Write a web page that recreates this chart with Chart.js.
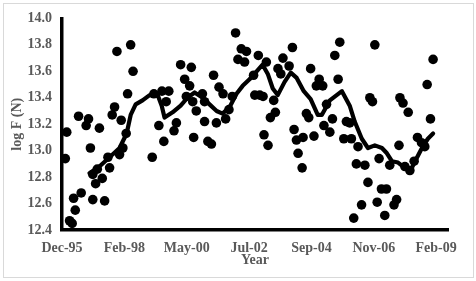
<!DOCTYPE html>
<html>
<head>
<meta charset="utf-8">
<script src="https://cdn.jsdelivr.net/npm/chart.js@4.4.1/dist/chart.umd.min.js"></script>
<style>
  body { margin: 0; background: #fff; }
  #frame { position: absolute; left: 3px; top: 3px; width: 469px; height: 273px; border: 1px solid #d9d9d9; }
  #myChart { position: absolute; left: 0; top: 0; }
</style>
</head>
<body>
<div id="frame"></div>
<canvas id="myChart" width="476" height="281"></canvas>
<script>
// months counted from Dec-95
var obsMonths = [1.4, 2.0, 3.2, 4.3, 4.9, 5.6, 7.0, 8.1, 10.2, 11.2, 12.0, 13.0, 13.0, 14.2, 14.9, 15.8, 17.0, 18.0, 19.4, 20.1,
  21.2, 22.2, 23.2, 24.3, 25.0, 25.7, 27.1, 27.7, 29.0, 30.0, 38.1, 38.8, 40.9, 42.2, 43.0, 44.0, 45.1, 47.3, 48.3, 50.1,
  51.8, 52.5, 53.9, 54.6, 55.2, 55.6, 56.7, 59.3, 60.2, 60.2, 61.6, 63.1, 64.0, 65.2, 66.3, 68.0, 69.1, 70.5, 71.9, 73.3,
  74.3, 75.7, 77.1, 77.9, 80.9, 81.4, 82.9, 83.5, 84.9, 85.3, 86.3, 87.0, 88.0, 89.4, 90.1, 91.2, 92.4, 93.3, 95.9, 97.3,
  98.0, 99.0, 99.7, 101.4, 101.8, 103.2, 104.2, 105.0, 106.4, 107.4, 108.6, 110.1, 110.6, 111.7, 113.1, 114.2, 115.2, 116.6, 117.3, 119.0,
  120.1, 121.5, 122.2, 123.2, 124.3, 125.0, 126.5, 127.9, 129.2, 130.0, 131.1, 132.1, 133.1, 133.9, 134.9, 136.3, 137.0, 138.4, 140.2, 141.3,
  142.3, 142.7, 144.0, 144.8, 146.2, 146.9, 148.7, 150.1, 151.8, 153.2, 154.2, 155.6, 156.7];
var obsLogF = [12.94, 13.14, 12.47, 12.45, 12.64, 12.55, 13.26, 12.68, 13.19, 13.24, 13.02, 12.82, 12.63, 12.75, 12.86, 13.17, 12.79, 12.62, 12.95, 12.87,
  13.27, 13.33, 13.75, 12.97, 13.23, 13.02, 13.13, 13.43, 13.80, 13.60, 12.95, 13.43, 13.19, 13.45, 13.07, 13.37, 13.45, 13.15, 13.21, 13.65,
  13.54, 13.41, 13.49, 13.63, 13.37, 13.10, 13.30, 13.43, 13.37, 13.22, 13.07, 13.05, 13.57, 13.21, 13.48, 13.43, 13.24, 13.31, 13.41, 13.89,
  13.69, 13.77, 13.67, 13.75, 13.57, 13.42, 13.72, 13.42, 13.41, 13.12, 13.67, 13.04, 13.25, 13.38, 13.29, 13.62, 13.58, 13.70, 13.64, 13.78,
  13.16, 13.08, 12.98, 12.87, 13.10, 13.28, 13.25, 13.62, 13.11, 13.49, 13.54, 13.49, 13.19, 13.35, 13.14, 13.24, 13.72, 13.54, 13.82, 13.09,
  13.22, 13.21, 13.09, 12.49, 12.90, 13.03, 12.59, 12.89, 12.76, 13.40, 13.37, 13.80, 12.61, 12.94, 12.71, 12.51, 12.71, 12.89, 12.59, 12.63,
  13.04, 13.40, 13.36, 12.88, 13.29, 12.85, 12.92, 13.10, 13.06, 13.03, 13.50, 13.24, 13.69];

// moving average line
var avgMonths = [11.6, 15.8, 20.1, 24.3, 27.3, 29.0, 31.1, 34.0, 37.0, 40.4, 42.1, 43.3, 46.7, 50.1, 53.0, 56.0, 59.4, 62.3, 65.3, 67.8,
  70.8, 73.7, 76.3, 79.2, 82.2, 84.7, 86.9, 89.0, 91.1, 94.0, 96.6, 99.1, 102.1, 105.0, 108.0, 109.7, 113.1, 118.2, 121.5, 123.6,
  126.6, 129.2, 132.1, 135.1, 137.2, 139.3, 141.9, 144.8, 146.9, 149.1, 152.0, 154.5, 156.7];
var avgLogF = [12.83, 12.88, 12.95, 13.02, 13.13, 13.27, 13.35, 13.38, 13.42, 13.42, 13.34, 13.25, 13.29, 13.34, 13.40, 13.44, 13.40, 13.35, 13.30, 13.28,
  13.33, 13.43, 13.49, 13.54, 13.60, 13.65, 13.58, 13.47, 13.42, 13.52, 13.59, 13.55, 13.45, 13.39, 13.27, 13.27, 13.38, 13.45, 13.34, 13.22,
  13.09, 13.02, 13.04, 13.02, 12.98, 12.92, 12.91, 12.87, 12.84, 12.92, 13.02, 13.09, 13.13];

var tickLabels = ['Dec-95', 'Feb-98', 'May-00', 'Jul-02', 'Sep-04', 'Nov-06', 'Feb-09'];
var tickMonthStep = 158 / 6;

var obsPoints = obsMonths.map(function (m, i) { return { x: m, y: obsLogF[i] }; });
var avgPoints = avgMonths.map(function (m, i) { return { x: m, y: avgLogF[i] }; });

var labelFont = { family: 'Liberation Serif', size: 14, weight: 'bold' };
var gray = '#595959';

var ctx = document.getElementById('myChart').getContext('2d');
new Chart(ctx, {
  type: 'scatter',
  data: {
    datasets: [
      {
        type: 'line',
        data: avgPoints,
        borderColor: '#000',
        borderWidth: 4.2,
        borderJoinStyle: 'round',
        borderCapStyle: 'round',
        pointRadius: 0,
        tension: 0,
        fill: false
      },
      {
        data: obsPoints,
        backgroundColor: '#000',
        borderWidth: 0,
        pointRadius: 4.8,
        pointHoverRadius: 4.8
      }
    ]
  },
  options: {
    responsive: false,
    animation: false,
    clip: false,
    layout: { padding: { left: 0, right: 28, top: 16, bottom: 12 } },
    plugins: { legend: { display: false }, tooltip: { enabled: false } },
    scales: {
      x: {
        type: 'linear',
        min: 0,
        max: 163,
        afterBuildTicks: function (scale) {
          scale.ticks = tickLabels.map(function (l, i) { return { value: i * tickMonthStep }; });
        },
        afterFit: function (scale) { scale.height = 39; },
        grid: { display: false, drawTicks: false },
        border: { display: true, color: '#000', width: 3.5 },
        ticks: {
          padding: 10,
          maxRotation: 0,
          autoSkip: false,
          color: gray,
          font: labelFont,
          callback: function (v, i) { return tickLabels[i]; }
        },
        title: { display: true, text: 'Year', color: gray, font: labelFont, padding: { top: 0, bottom: 0 } }
      },
      y: {
        min: 12.4,
        max: 14.0,
        afterFit: function (scale) { scale.width = 62; },
        grid: { display: false, drawTicks: false },
        border: { display: true, color: '#000', width: 3.5 },
        ticks: {
          stepSize: 0.2,
          padding: 10,
          color: gray,
          font: labelFont,
          callback: function (v) { return v.toFixed(1); }
        },
        title: { display: true, text: 'log F (N)', color: gray, font: labelFont, padding: { top: 9, bottom: 0 } }
      }
    }
  }
});
</script>
</body>
</html>
